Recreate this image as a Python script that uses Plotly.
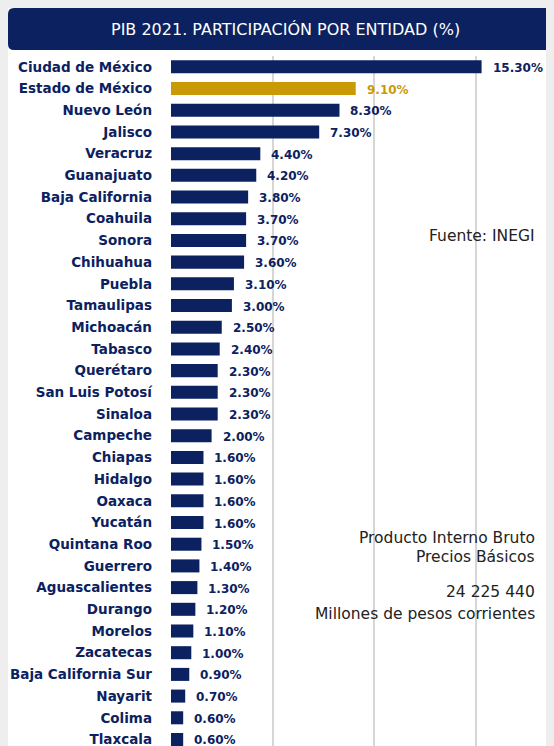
import plotly.graph_objects as go

states = ["Ciudad de México", "Estado de México", "Nuevo León", "Jalisco", "Veracruz",
          "Guanajuato", "Baja California", "Coahuila", "Sonora", "Chihuahua", "Puebla",
          "Tamaulipas", "Michoacán", "Tabasco", "Querétaro", "San Luis Potosí", "Sinaloa",
          "Campeche", "Chiapas", "Hidalgo", "Oaxaca", "Yucatán", "Quintana Roo", "Guerrero",
          "Aguascalientes", "Durango", "Morelos", "Zacatecas", "Baja California Sur",
          "Nayarit", "Colima", "Tlaxcala"]
values = [15.3, 9.1, 8.3, 7.3, 4.4, 4.2, 3.8, 3.7, 3.7, 3.6, 3.1, 3.0, 2.5, 2.4, 2.3, 2.3,
          2.3, 2.0, 1.6, 1.6, 1.6, 1.6, 1.5, 1.4, 1.3, 1.2, 1.1, 1.0, 0.9, 0.7, 0.6, 0.6]
highlight = "Estado de México"
x_ticks = [0, 5, 10, 15]

NAVY = "#0b2160"
GOLD = "#c99a06"
GREY_BG = "#eeeeee"
FONT = "DejaVu Sans"

# page has an 8px body margin; figure drawn at (8, 8)
OFF = 8
W, H = 554 - OFF, 746 - OFF
ML, MR, MT, MB = 171 - OFF, 0, 56 - OFF, 0
PW, PH = W - ML - MR, H - MT - MB


def px_x(px):  # page pixel -> paper
    return (px - OFF - ML) / PW


def px_y(py):
    return 1 - (py - OFF - MT) / PH


colors = [GOLD if s == highlight else NAVY for s in states]

fig = go.Figure(go.Bar(
    x=values, y=states, orientation="h",
    marker=dict(color=colors, line=dict(width=0)),
    width=0.6, hoverinfo="skip",
))

for s, v, c in zip(states, values, colors):
    fig.add_annotation(x=v, y=s, xref="x", yref="y", text=f"{v:.2f}%",
                       showarrow=False, xanchor="left", xshift=9, yshift=-1,
                       font=dict(family=FONT, size=12, color=c, weight=700))

# header bar
r = 6
x0, x1, y0, y1 = 8, 560, 8, 50
path = (f"M {px_x(x0 + r)},{px_y(y0)} L {px_x(x1)},{px_y(y0)} L {px_x(x1)},{px_y(y1)} "
        f"L {px_x(x0 + r)},{px_y(y1)} Q {px_x(x0)},{px_y(y1)} {px_x(x0)},{px_y(y1 - r)} "
        f"L {px_x(x0)},{px_y(y0 + r)} Q {px_x(x0)},{px_y(y0)} {px_x(x0 + r)},{px_y(y0)} Z")
fig.update_layout(shapes=[dict(type="path", xref="paper", yref="paper", path=path,
                               fillcolor=NAVY, line=dict(width=0), layer="above")])

fig.add_annotation(xref="paper", yref="paper", x=px_x(285), y=px_y(29),
                   text="PIB 2021. PARTICIPACIÓN POR ENTIDAD (%)", showarrow=False,
                   xanchor="center", yanchor="middle",
                   font=dict(family=FONT, size=16, color="white"))

side_font = dict(family=FONT, size=15.5, color="#222222")
for txt, py in [("Fuente: INEGI", 236), ("Producto Interno Bruto", 538),
                ("Precios Básicos", 557), ("24 225 440", 592),
                ("Millones de pesos corrientes", 614)]:
    fig.add_annotation(xref="paper", yref="paper", x=px_x(537), y=px_y(py), text=txt,
                       showarrow=False, xanchor="right", yanchor="middle", font=side_font)

fig.update_layout(
    width=W, height=H,
    margin=dict(l=ML, r=MR, t=MT, b=MB, pad=0),
    paper_bgcolor="white", plot_bgcolor="white",
    showlegend=False,
    xaxis=dict(range=[0, PW / 20.3], tickvals=x_ticks, showticklabels=False,
               showgrid=True, gridcolor="#d6d6d6", gridwidth=1.5, zeroline=False,
               showline=False, fixedrange=True),
    yaxis=dict(categoryorder="array", categoryarray=states,
               range=[31.3, -0.5], showgrid=False, zeroline=False, showline=False,
               ticks="", ticklabelstandoff=18,
               tickfont=dict(family=FONT, size=13.5, color=NAVY, weight=700),
               fixedrange=True),
)

fig.write_html("out.html",
               post_script=f"document.body.style.background='{GREY_BG}';")
